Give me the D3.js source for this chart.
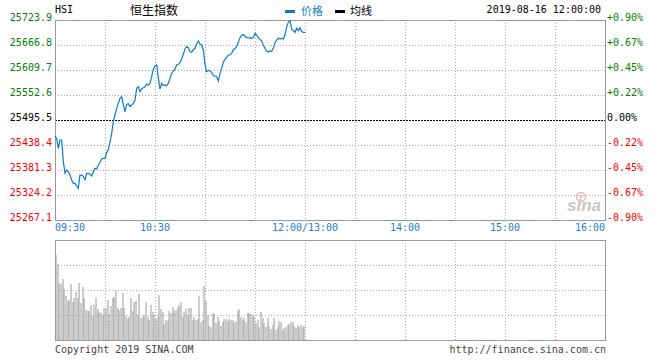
<!DOCTYPE html>
<html><head><meta charset="utf-8">
<script src="https://cdnjs.cloudflare.com/ajax/libs/d3/7.8.5/d3.min.js"></script>
<style>body{margin:0;background:#fff}svg{display:block}</style>
</head><body><svg id="c" width="660" height="360"></svg>
<script>
const priceTicks = [25267.1, 25324.2, 25381.3, 25438.4, 25495.5, 25552.6, 25609.7, 25666.8, 25723.9];
const pctLabels = ["-0.90%", "-0.67%", "-0.45%", "-0.22%", "0.00%", "+0.22%", "+0.45%", "+0.67%", "+0.90%"];
const timeLabels = ["09:30", "10:30", "12:00/13:00", "14:00", "15:00", "16:00"];
const timeMinutes = [0, 60, 150, 210, 270, 330];
const prevClose = 25495.5;
const prices = [
25459.7,25452.1,25430.8,25449.8,25449.8,25400.3,25373.7,25381.3,25377.5,25369.9,
25358.5,25350.8,25350.8,25344.8,25339.4,25369.9,25369.1,25366.8,25358.5,25373.7,
25373.7,25371.4,25367.6,25377.5,25385.1,25383.6,25392.7,25398.8,25406.4,25408.0,
25408.0,25421.7,25427.0,25446.0,25465.1,25491.7,25506.9,25522.2,25533.6,25545.0,
25548.8,25529.8,25514.5,25531.3,25532.8,25526.0,25529.8,25533.6,25541.2,25567.8,
25571.6,25560.2,25566.3,25569.4,25571.6,25577.7,25575.4,25579.3,25594.5,25612.0,
25618.8,25621.1,25590.7,25566.3,25579.3,25574.7,25575.4,25573.9,25579.3,25590.7,
25602.1,25607.4,25612.0,25621.1,25622.6,25627.2,25634.8,25645.5,25657.7,25663.0,
25660.7,25651.6,25650.1,25656.1,25659.2,25669.1,25675.9,25669.1,25666.8,25655.4,
25621.1,25605.9,25608.9,25607.4,25604.4,25596.8,25596.0,25594.5,25584.6,25602.1,
25613.5,25627.2,25634.1,25638.6,25644.0,25644.0,25647.8,25656.1,25659.2,25663.0,
25672.9,25683.6,25689.6,25690.4,25687.4,25683.6,25682.8,25683.6,25682.0,25683.6,
25693.5,25689.6,25683.6,25679.7,25675.9,25666.8,25659.2,25653.1,25650.8,25653.1,
25652.3,25659.2,25672.1,25678.2,25682.8,25680.5,25682.0,25680.5,25689.6,25708.7,
25718.6,25722.4,25703.3,25699.5,25695.7,25704.9,25699.5,25706.4,25697.3,25695.7,
25695.7];
const volumes = [
85,76,57,56,61,51,44,39,40,56,38,42,48,42,57,37,53,42,30,29,
29,35,24,35,42,31,28,27,25,32,32,40,26,34,42,43,50,32,30,32,
47,32,24,22,23,42,29,38,39,25,46,22,23,25,38,23,20,35,28,25,
21,23,45,31,28,16,20,19,29,27,33,29,30,33,35,38,23,28,31,24,
32,32,20,23,20,21,44,18,20,54,39,25,14,13,27,26,17,23,19,14,
18,21,21,19,21,20,20,17,19,29,31,23,20,22,18,27,27,26,25,23,
17,20,13,28,22,17,13,22,14,11,15,22,10,13,19,18,10,12,13,15,
16,18,18,14,12,15,13,15,13,14];

const svg = d3.select("#c");
const L = 55, R = 605, T = 20, B = 220, VT = 240, VB = 340;
const x = d3.scaleLinear().domain([0, 330]).range([L, R]);
const y = d3.scaleLinear().domain([priceTicks[0], priceTicks[priceTicks.length - 1]]).range([B, T]);
const vy = d3.scaleLinear().domain([0, 100]).range([VB, VT]);
const mono = "'DejaVu Sans Mono', 'Liberation Mono', monospace";
const gridMinutes = d3.range(30, 330, 30);

// main grid
const g = svg.append("g");
g.selectAll("line.vg").data(gridMinutes).join("line")
  .attr("x1", d => Math.round(x(d)) + 0.5).attr("x2", d => Math.round(x(d)) + 0.5)
  .attr("y1", T).attr("y2", B).attr("stroke", "#aaa").attr("stroke-dasharray", "1,2");
g.selectAll("line.hg").data(priceTicks.slice(1, -1)).join("line")
  .attr("x1", L).attr("x2", R)
  .attr("y1", d => Math.round(y(d)) + 0.5).attr("y2", d => Math.round(y(d)) + 0.5)
  .attr("stroke", d => d === prevClose ? "#000" : "#aaa")
  .attr("stroke-dasharray", d => d === prevClose ? "2,1" : "1,2");
g.append("rect").attr("x", L + 0.5).attr("y", T + 0.5).attr("width", R - L).attr("height", B - T)
  .attr("fill", "none").attr("stroke", "#999");

// watermark
const wm = svg.append("g").attr("opacity", 0.55);
wm.append("circle").attr("cx", 581).attr("cy", 197).attr("r", 4.5).attr("fill", "none").attr("stroke", "#e77").attr("stroke-width", 1.5);
wm.append("circle").attr("cx", 581).attr("cy", 197).attr("r", 1.8).attr("fill", "#aaa");
wm.append("text").attr("x", 567).attr("y", 211).text("sina")
  .attr("font-family", "Arial, 'Liberation Sans', sans-serif").attr("font-style", "italic").attr("font-weight", "bold")
  .attr("font-size", 17).attr("fill", "#999");

// price line
svg.append("path").datum(prices)
  .attr("d", d3.line().x((d, i) => x(i)).y(d => y(d)))
  .attr("fill", "none").attr("stroke", "#0a7cd0").attr("stroke-width", 1.2);

// left labels
svg.selectAll("text.pl").data(priceTicks).join("text")
  .attr("x", 52).attr("y", d => Math.round(y(d)) + 1)
  .attr("text-anchor", "end").attr("font-family", mono).attr("font-size", 10)
  .attr("fill", d => d > prevClose ? "#008000" : d < prevClose ? "#f00" : "#000")
  .text(d => d.toFixed(1));
// right labels
svg.selectAll("text.pr").data(priceTicks).join("text")
  .attr("x", 607).attr("y", d => Math.round(y(d)) + 1)
  .attr("font-family", mono).attr("font-size", 10)
  .attr("fill", d => d > prevClose ? "#008000" : d < prevClose ? "#f00" : "#000")
  .text((d, i) => pctLabels[i]);

// time labels
svg.selectAll("text.tl").data(timeMinutes).join("text")
  .attr("x", d => x(d)).attr("y", 231)
  .attr("text-anchor", (d, i) => i === 0 ? "start" : i === timeMinutes.length - 1 ? "end" : "middle")
  .attr("font-family", mono).attr("font-size", 10).attr("fill", "#1a7fcc")
  .text((d, i) => timeLabels[i]);

// volume panel
const vg = svg.append("g");
vg.selectAll("line.vvg").data(gridMinutes).join("line")
  .attr("x1", d => Math.round(x(d)) + 0.5).attr("x2", d => Math.round(x(d)) + 0.5)
  .attr("y1", VT).attr("y2", VB).attr("stroke", "#aaa").attr("stroke-dasharray", "1,2");
vg.selectAll("line.vhg").data([25, 50, 75]).join("line")
  .attr("x1", L).attr("x2", R)
  .attr("y1", d => Math.round(vy(d)) + 0.5).attr("y2", d => Math.round(vy(d)) + 0.5)
  .attr("stroke", "#aaa").attr("stroke-dasharray", "1,2");
vg.selectAll("rect.bar").data(volumes).join("rect")
  .attr("x", (d, i) => Math.round(x(i + 0.6)) - 0.5).attr("width", 1)
  .attr("y", d => vy(d)).attr("height", d => VB - vy(d))
  .attr("fill", "#999");
vg.append("rect").attr("x", L + 0.5).attr("y", VT + 0.5).attr("width", R - L).attr("height", VB - VT)
  .attr("fill", "none").attr("stroke", "#999");

// header
svg.append("text").attr("x", 55).attr("y", 13).text("HSI")
  .attr("font-family", mono).attr("font-size", 10).attr("fill", "#000");
svg.append("text").attr("x", 130).attr("y", 15).text("恒生指数")
  .attr("font-family", "'Noto Sans CJK SC', sans-serif").attr("font-size", 12).attr("fill", "#000");
svg.append("rect").attr("x", 285).attr("y", 10).attr("width", 10).attr("height", 3).attr("fill", "#0a7cd0");
svg.append("text").attr("x", 301).attr("y", 15).text("价格")
  .attr("font-family", "'Noto Sans CJK SC', sans-serif").attr("font-size", 11).attr("fill", "#1a7fcc");
svg.append("rect").attr("x", 335).attr("y", 10).attr("width", 10).attr("height", 3).attr("fill", "#000");
svg.append("text").attr("x", 350).attr("y", 15).text("均线")
  .attr("font-family", "'Noto Sans CJK SC', sans-serif").attr("font-size", 11).attr("fill", "#000");
svg.append("text").attr("x", 601).attr("y", 13).attr("text-anchor", "end").text("2019-08-16 12:00:00")
  .attr("font-family", mono).attr("font-size", 10).attr("fill", "#000");

// footer
svg.append("text").attr("x", 55).attr("y", 353).text("Copyright 2019 SINA.COM")
  .attr("font-family", mono).attr("font-size", 10).attr("fill", "#444");
svg.append("text").attr("x", 606).attr("y", 353).attr("text-anchor", "end").text("http://finance.sina.com.cn")
  .attr("font-family", mono).attr("font-size", 10).attr("fill", "#444");
</script></body></html>
